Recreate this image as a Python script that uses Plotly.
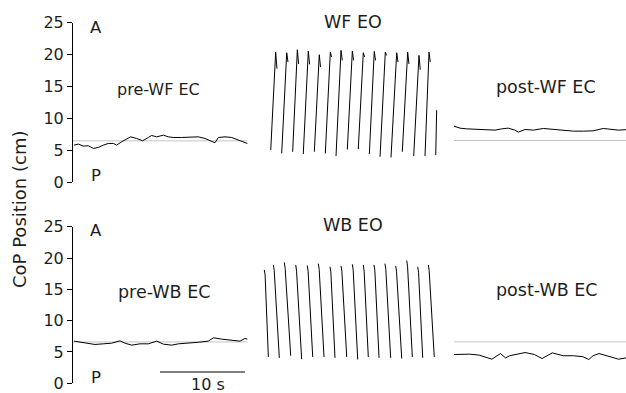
import plotly.graph_objects as go

W, H = 626, 393

# ---------------- data (time in s, CoP position in cm) ----------------
pre_wf_t = [0.24, 0.75, 1.33, 1.92, 2.51, 3.1, 3.69, 4.27, 4.86, 5.25, 5.84, 6.43, 6.9, 7.61, 8.31, 8.98,
            9.37, 9.96, 10.75, 11.33, 11.92, 12.9, 13.88, 14.86, 15.65, 16.43, 16.82, 17.22, 18.0, 18.78,
            19.57, 20.63]
pre_wf_v = [5.78, 5.94, 5.63, 5.68, 5.26, 5.42, 5.78, 6.04, 6.04, 5.78, 6.3, 6.67, 7.08, 6.82, 6.46, 6.98,
            7.29, 7.08, 7.34, 7.08, 6.98, 6.98, 7.08, 7.08, 6.82, 6.3, 6.15, 6.98, 7.08, 6.98,
            6.56, 6.04]

wf_bottom_t = [23.38, 24.67, 25.96, 27.21, 28.51, 29.80, 31.06, 32.39, 33.68, 34.98, 36.24, 37.53, 38.86,
               40.20, 41.53, 42.79]
wf_bottom_v = [5.0, 4.48, 4.74, 4.38, 4.74, 4.48, 4.06, 5.1, 5.16, 4.38, 3.96, 3.85, 4.74, 4.06, 4.06, 4.22]
wf_top_t = [23.96, 25.26, 26.51, 27.80, 29.09, 30.39, 31.65, 32.98, 34.27, 35.56, 36.86, 38.20, 39.49,
            40.82, 42.0, 42.9]
wf_top_v = [20.36, 20.26, 20.73, 20.52, 19.95, 20.36, 20.63, 20.52, 20.26, 20.47, 20.36, 20.26, 20.36,
            19.84, 20.36, 11.25]
wf_hook_v = [17.76, 18.8, 18.5, 18.44, 18.0, 19.6, 19.06, 19.06, 19.6, 19.06, 19.84, 18.8, 18.5,
             17.6, 18.8, None]

post_wf_t = [44.94, 45.65, 46.43, 47.6, 48.8, 49.76, 50.55, 51.33, 52.1, 52.5, 53.3, 54.3, 55.45, 56.6,
             57.8, 59.0, 60.15, 61.3, 62.5, 63.4, 64.3, 65.2]
post_wf_v = [8.75, 8.44, 8.33, 8.23, 8.13, 8.13, 8.33, 8.44, 8.13, 7.81, 8.23, 8.13, 8.39, 8.23,
             8.13, 7.97, 7.97, 8.02, 8.39, 8.3, 8.13, 8.2]

pre_wb_t = [0.24, 1.0, 1.73, 2.69, 3.67, 4.65, 5.65, 6.24, 7.02, 8.0, 8.98, 9.96, 10.75, 11.73, 12.51,
            13.69, 14.86, 16.04, 16.63, 17.61, 18.78, 19.76, 20.35, 20.63]
pre_wb_v = [6.73, 6.6, 6.36, 6.2, 6.3, 6.4, 6.78, 6.4, 6.09, 6.3, 6.3, 6.73, 6.25, 6.09, 6.3,
            6.4, 6.55, 6.73, 7.26, 7.05, 6.9, 6.73, 7.16, 7.05]

wb_top_t = [22.62, 23.69, 24.98, 26.32, 27.68, 28.98, 30.35, 31.65, 32.98, 34.27, 35.53, 36.82, 38.08,
            39.38, 40.67, 41.92]
wb_top_v = [18.1, 18.9, 19.3, 18.9, 18.8, 19.1, 18.6, 18.75, 19.0, 18.9, 18.9, 19.1, 18.75, 19.6, 18.6, 18.9]
wb_hook_v = [17.3, 18.0, 18.3, 17.9, 17.9, 18.2, 17.8, 17.9, 18.1, 17.9, 18.0, 18.2, 17.9, 18.6, 17.7, 18.0]
wb_bottom_t = [23.1, 24.39, 25.73, 27.02, 28.32, 29.65, 30.94, 32.32, 33.61, 34.86, 36.12, 37.49, 38.79,
               40.04, 41.26, 42.62]
wb_bottom_v = [4.2, 4.06, 4.4, 3.85, 4.2, 4.2, 4.06, 4.2, 3.8, 4.2, 4.06, 4.06, 3.95, 4.2, 4.06, 4.2]

post_wb_t = [44.94, 46.8, 47.9, 49.4, 50.4, 51.0, 51.5, 52.1, 53.3, 54.4, 55.3, 56.5, 57.8, 59.0, 60.1,
             60.8, 61.3, 62.0, 63.4, 64.3, 65.2]
post_wb_v = [4.6, 4.65, 4.5, 3.85, 4.75, 4.06, 4.4, 4.6, 4.91, 4.6, 3.95, 4.86, 4.4, 4.4, 4.25,
             3.8, 4.4, 4.75, 4.2, 3.85, 4.06]

ref_wf = [6.45, 6.5]     # grey baseline, pre / post (WF)
ref_wb = [6.6, 6.62]     # grey baseline, pre / post (WB)
ref_pre_t = [0.0, 20.63]
ref_post_t = [44.94, 65.2]

scale_t = [10.35, 20.35]
scale_v = [1.8, 1.8]

y_ticks = [0, 5, 10, 15, 20, 25]

# ---------------- figure ----------------
def rise_strokes(t0, v0, t1, v1, hook_v):
    xs, ys = [], []
    for i in range(len(t0)):
        xs += [t0[i], t1[i]]
        ys += [v0[i], v1[i]]
        if hook_v[i] is not None:
            xs.append(t1[i] + 0.15)
            ys.append(hook_v[i])
        xs.append(None)
        ys.append(None)
    return xs, ys


def fall_strokes(t0, v0, hook_v, t1, v1):
    xs, ys = [], []
    for i in range(len(t0)):
        xs += [t0[i], t0[i] + 0.1, t1[i], None]
        ys += [v0[i], hook_v[i], v1[i], None]
    return xs, ys


line = dict(color="black", width=1)
grey = dict(color="#c4c4c4", width=1)

fig = go.Figure()
# top panel (WF)
for tt, vv in [(ref_pre_t, [ref_wf[0]] * 2), (ref_post_t, [ref_wf[1]] * 2)]:
    fig.add_trace(go.Scatter(x=tt, y=vv, mode="lines", line=grey, xaxis="x", yaxis="y"))
fig.add_trace(go.Scatter(x=pre_wf_t, y=pre_wf_v, mode="lines", line=line, xaxis="x", yaxis="y"))
wx, wy = rise_strokes(wf_bottom_t, wf_bottom_v, wf_top_t, wf_top_v, wf_hook_v)
fig.add_trace(go.Scatter(x=wx, y=wy, mode="lines", line=line, xaxis="x", yaxis="y", connectgaps=False))
fig.add_trace(go.Scatter(x=post_wf_t, y=post_wf_v, mode="lines", line=line, xaxis="x", yaxis="y"))

# bottom panel (WB)
for tt, vv in [(ref_pre_t, [ref_wb[0]] * 2), (ref_post_t, [ref_wb[1]] * 2)]:
    fig.add_trace(go.Scatter(x=tt, y=vv, mode="lines", line=grey, xaxis="x2", yaxis="y2"))
fig.add_trace(go.Scatter(x=pre_wb_t, y=pre_wb_v, mode="lines", line=line, xaxis="x2", yaxis="y2"))
bx, by = fall_strokes(wb_top_t, wb_top_v, wb_hook_v, wb_bottom_t, wb_bottom_v)
fig.add_trace(go.Scatter(x=bx, y=by, mode="lines", line=line, xaxis="x2", yaxis="y2", connectgaps=False))
fig.add_trace(go.Scatter(x=post_wb_t, y=post_wb_v, mode="lines", line=line, xaxis="x2", yaxis="y2"))
fig.add_trace(go.Scatter(x=scale_t, y=scale_v, mode="lines", line=dict(color="black", width=1.2),
                         xaxis="x2", yaxis="y2"))

x0_px, px_per_s = 72, 8.5
xr = [-x0_px / px_per_s, (W - x0_px) / px_per_s]


def ydom(top_px, bot_px):
    return [(H - bot_px) / H, (H - top_px) / H]


FAM = "DejaVu Sans, Liberation Sans, Arial, sans-serif"
TXT = "#1e1e1e"
yax = dict(range=[0, 25], tickvals=y_ticks, ticks="outside", ticklen=5, tickcolor="black",
           tickwidth=1, showline=True, linecolor="black", linewidth=1, showgrid=False, zeroline=False,
           tickfont=dict(size=16, family=FAM, color=TXT), fixedrange=True)
xax = dict(range=xr, visible=False, showgrid=False, zeroline=False, domain=[0, 1], fixedrange=True)

fig.update_layout(
    width=W, height=H, margin=dict(l=0, r=0, t=0, b=0, autoexpand=False),
    plot_bgcolor="white", paper_bgcolor="white", showlegend=False,
    xaxis=dict(**xax, anchor="y"),
    xaxis2=dict(**xax, anchor="y2"),
    yaxis=dict(**yax, domain=ydom(22.5, 182), anchor="free", position=x0_px / W),
    yaxis2=dict(**yax, domain=ydom(226.7, 383.3), anchor="free", position=x0_px / W),
)


def ann(text, xp, yp, size=16.5, angle=0):
    fig.add_annotation(text=text, x=xp / W, y=1 - yp / H, xref="paper", yref="paper",
                       showarrow=False, textangle=angle,
                       font=dict(size=size, family=FAM, color=TXT),
                       xanchor="center", yanchor="middle")


ann("A", 95.5, 28)
ann("P", 95.5, 175)
ann("pre-WF EC", 158, 90, size=16)
ann("WF EO", 353, 22, size=17.5)
ann("post-WF EC", 546, 87, size=17.5)
ann("A", 95.5, 230)
ann("P", 95.5, 377)
ann("pre-WB EC", 164, 292, size=17.5)
ann("WB EO", 353, 225, size=17.5)
ann("post-WB EC", 547, 290, size=17.5)
ann("10 s", 208, 384, size=16)
ann("CoP Position (cm)", 19, 210, size=18, angle=-90)

fig.write_html("out.html", config={"displayModeBar": False},
               post_script="document.body.style.margin='0';document.body.style.overflow='hidden';")
